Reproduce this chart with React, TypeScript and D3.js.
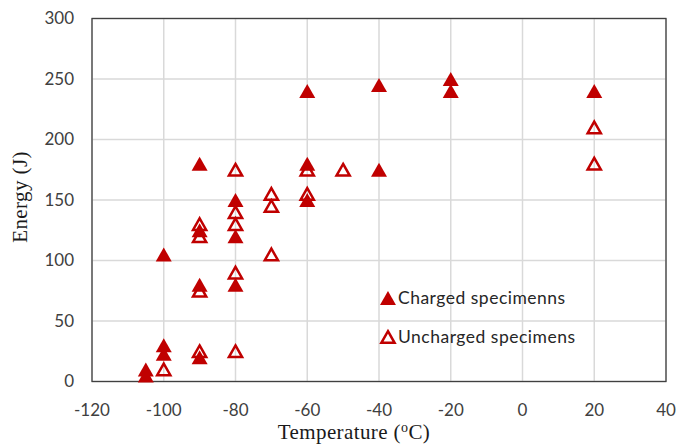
import * as d3 from "d3";

// values
const chargedTemp = [-105, -105, -100, -100, -100, -90, -90, -90, -90, -80, -80, -80, -60, -60, -60, -40, -40, -20, -20, 20];
const chargedEnergy = [5, 10, 23, 30, 105, 20, 80, 125, 180, 80, 120, 150, 150, 180, 240, 175, 245, 240, 250, 240];

const unchargedTemp = [-100, -90, -80, -90, -80, -90, -90, -80, -80, -80, -70, -70, -70, -60, -60, -50, 20, 20];
const unchargedEnergy = [10, 25, 25, 75, 90, 120, 130, 130, 140, 175, 105, 145, 155, 155, 175, 175, 180, 210];

const xTicks = [-120, -100, -80, -60, -40, -20, 0, 20, 40];
const yTicks = [0, 50, 100, 150, 200, 250, 300];

const seriesNames = ["Charged specimenns", "Uncharged specimens"];

const RED = "#C00000";

function triangle(cx: number, cy: number, hw: number, hh: number) {
    const p = d3.path();
    p.moveTo(cx, cy - hh);
    p.lineTo(cx + hw, cy + hh);
    p.lineTo(cx - hw, cy + hh);
    p.closePath();
    return p.toString();
}

function Marker({ x, y, filled }: { x: number; y: number; filled: boolean }) {
    if (filled) {
        return <path d={triangle(x, y, 8, 7)} fill={RED} />;
    }
    return <path d={triangle(x, y, 6.6, 5.8)} fill="none" stroke={RED} strokeWidth={2.5} strokeLinejoin="miter" />;
}

export default function App() {
    const width = 680;
    const height = 447;
    const margin = { top: 18.5, right: 14, bottom: 65.5, left: 92 };
    const innerW = width - margin.left - margin.right;
    const innerH = height - margin.top - margin.bottom;

    const x = d3.scaleLinear().domain([-120, 40]).range([0, innerW]);
    const y = d3.scaleLinear().domain([0, 300]).range([innerH, 0]);

    const charged = chargedTemp.map((t, i) => ({ t, e: chargedEnergy[i] }));
    const uncharged = unchargedTemp.map((t, i) => ({ t, e: unchargedEnergy[i] }));

    const tickFont = "Lato, 'Open Sans', sans-serif";
    const titleFont = "'Liberation Serif', 'DejaVu Serif', serif";

    return (
        <div style={{ position: "absolute", left: 0, top: 0 }}>
            <svg width={width} height={height} style={{ display: "block", background: "#fff" }}>
                <g transform={`translate(${margin.left}, ${margin.top})`}>
                    {/* grid */}
                    {xTicks.map((t) => (
                        <line key={`gx-${t}`} x1={x(t)} x2={x(t)} y1={0} y2={innerH} stroke="#d9d9d9" strokeWidth={1.5} />
                    ))}
                    {yTicks.map((t) => (
                        <line key={`gy-${t}`} x1={0} x2={innerW} y1={y(t)} y2={y(t)} stroke="#d9d9d9" strokeWidth={1.5} />
                    ))}
                    <rect x={0} y={0} width={innerW} height={innerH} fill="none" stroke="#404040" strokeWidth={1.3} />

                    {/* tick labels */}
                    {yTicks.map((t) => (
                        <text key={`ly-${t}`} x={-18} y={y(t)} dy="0.35em" textAnchor="end"
                            fontFamily={tickFont} fontSize={17} fill="#404040">{t}</text>
                    ))}
                    {xTicks.map((t) => (
                        <text key={`lx-${t}`} x={x(t)} y={innerH + 28.5} dy="0.35em" textAnchor="middle"
                            fontFamily={tickFont} fontSize={17} fill="#404040">{t}</text>
                    ))}

                    {/* points */}
                    {uncharged.map((d, i) => (
                        <Marker key={`u-${i}`} x={x(d.t)} y={y(d.e)} filled={false} />
                    ))}
                    {charged.map((d, i) => (
                        <Marker key={`c-${i}`} x={x(d.t)} y={y(d.e)} filled={true} />
                    ))}

                    {/* legend */}
                    <g transform={`translate(${x(-37.5)}, ${y(69)})`}>
                        <Marker x={0} y={0} filled={true} />
                        <text x={10} y={0} dy="0.35em" fontFamily={tickFont} fontSize={17.5} letterSpacing={0.5} fill="#262626">{seriesNames[0]}</text>
                        <g transform="translate(0, 39)">
                            <Marker x={0} y={0} filled={false} />
                            <text x={10} y={0} dy="0.35em" fontFamily={tickFont} fontSize={17.5} letterSpacing={0.5} fill="#262626">{seriesNames[1]}</text>
                        </g>
                    </g>
                </g>

                {/* axis titles */}
                <text x={354} y={439} textAnchor="middle" fontFamily={titleFont} fontSize={21} letterSpacing={0.4} fill="#1a1a1a">
                    Temperature (<tspan fontSize={14} dy={-7}>o</tspan><tspan dy={7}>C)</tspan>
                </text>
                <text transform="translate(27, 197) rotate(-90)" textAnchor="middle" fontFamily={titleFont} fontSize={21} letterSpacing={0.4} fill="#1a1a1a">
                    Energy (J)
                </text>
            </svg>
        </div>
    );
}
